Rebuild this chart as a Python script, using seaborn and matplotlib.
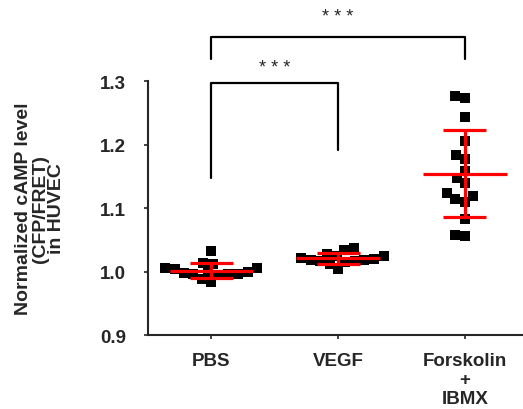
import matplotlib
matplotlib.use("Agg")
import matplotlib.pyplot as plt
import numpy as np
import pandas as pd
import seaborn as sns

groups = ["PBS", "VEGF", "Forskolin\n+\nIBMX"]
pbs = [1.032, 1.012, 1.013, 1.005, 1.006, 1.004, 0.996, 0.995, 0.998,
       0.996, 0.997, 1.000, 0.984, 0.988, 0.999]
vegf = [1.038, 1.034, 1.028, 1.025, 1.017, 1.018, 1.004, 1.012, 1.020,
        1.022, 1.015, 1.024, 1.019, 1.016]
forsk = [1.273, 1.276, 1.243, 1.206, 1.184, 1.177, 1.158, 1.148, 1.139,
         1.119, 1.123, 1.110, 1.114, 1.083, 1.056, 1.058]
y_ticks = [0.9, 1.0, 1.1, 1.2, 1.3]

sns.set_style("ticks")
plt.rcParams["font.family"] = ["Liberation Sans", "DejaVu Sans"]

df = pd.DataFrame({
    "group": [groups[0]] * len(pbs) + [groups[1]] * len(vegf) + [groups[2]] * len(forsk),
    "value": pbs + vegf + forsk,
})

fig = plt.figure(figsize=(5.23, 4.10), dpi=100)
ax = fig.add_axes([0.283, 0.180, 0.717, 0.620])

sns.swarmplot(data=df, x="group", y="value", order=groups, ax=ax,
              color="black", marker="s", size=6.8, linewidth=0, zorder=2)

# mean +/- SD in red
for i, vals in enumerate([pbs, vegf, forsk]):
    m = np.mean(vals)
    sd = np.std(vals, ddof=1)
    ax.hlines(m, i - 0.33, i + 0.33, color="red", lw=2.3, zorder=3)
    ax.hlines([m - sd, m + sd], i - 0.17, i + 0.17, color="red", lw=2.3, zorder=3)
    ax.vlines(i, m - sd, m + sd, color="red", lw=2.3, zorder=3)

ax.set_xlim(-0.5, 2.46)
ax.set_ylim(0.9, 1.3)
ax.set_yticks(y_ticks)
ax.set_yticklabels([f"{t:.1f}" for t in y_ticks], fontsize=13.5, fontweight="bold")
ax.set_xticklabels(groups, fontsize=13.5, fontweight="bold", linespacing=1.15)
ax.set_xlabel("")
ax.set_ylabel("")
fig.text(40 / 523, 1 - 209 / 410, "Normalized cAMP level\n(CFP/FRET)\nin HUVEC",
         rotation=90, ha="center", va="center", fontsize=14, fontweight="bold",
         linespacing=0.95, multialignment="center")
sns.despine(ax=ax)
ax.spines["left"].set_linewidth(1.5)
ax.spines["bottom"].set_linewidth(1.5)
ax.tick_params(axis="y", length=3, width=1.2, pad=13)
ax.tick_params(axis="x", length=3, width=1.2, pad=9)

# significance brackets
ax.plot([0, 0, 1, 1], [1.147, 1.297, 1.297, 1.191], color="black", lw=1.6,
        clip_on=False)
ax.text(0.5, 1.322, "* * *", ha="center", va="center", fontsize=13, clip_on=False)
ax.plot([0, 0, 2, 2], [1.335, 1.369, 1.369, 1.335], color="black", lw=1.6,
        clip_on=False)
ax.text(1.0, 1.401, "* * *", ha="center", va="center", fontsize=13, clip_on=False)

fig.savefig("out.png", dpi=100)
